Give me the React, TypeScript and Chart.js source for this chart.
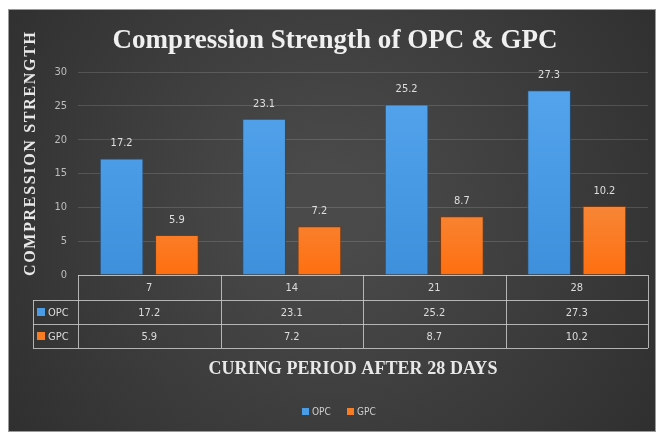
import { useEffect, useRef } from "react";
import { Chart, registerables } from "chart.js";

Chart.register(...registerables);

const categories = ["7", "14", "21", "28"];
const opcValues = [17.2, 23.1, 25.2, 27.3];
const gpcValues = [5.9, 7.2, 8.7, 10.2];
const seriesNames = ["OPC", "GPC"];
const yMin = 0;
const yMax = 30;
const yStep = 5;
const chartTitle = "Compression Strength of OPC & GPC";
const yTitle = "COMPRESSION STRENGTH";
const xTitle = "CURING PERIOD AFTER 28 DAYS";

const BLUE = "#4a9ce6";
const ORANGE = "#f77c22";
const SERIF = "'Liberation Serif', 'DejaVu Serif', serif";
const SANS = "'Liberation Sans Narrow', 'DejaVu Sans Condensed', 'Liberation Sans', sans-serif";

function fitText(ctx: CanvasRenderingContext2D, text: string, x: number, y: number, width: number) {
  (ctx as any).letterSpacing = "0px";
  const w = ctx.measureText(text).width;
  const sp = (width - w) / Math.max(1, text.length - 1);
  (ctx as any).letterSpacing = sp.toFixed(2) + "px";
  ctx.textAlign = "left";
  ctx.fillText(text, x - width / 2, y);
  (ctx as any).letterSpacing = "0px";
}

const decorPlugin = {
  id: "decor",
  beforeDraw(chart: any) {
    const { ctx, width, height } = chart;
    ctx.save();
    ctx.fillStyle = "#ffffff";
    ctx.fillRect(0, 0, width, height);
    const x0 = 8, y0 = 9, x1 = 656, y1 = 432;
    const g = ctx.createRadialGradient(330, 210, 40, 330, 210, 420);
    g.addColorStop(0, "#4a4a4a");
    g.addColorStop(1, "#2d2d2d");
    ctx.fillStyle = g;
    ctx.fillRect(x0, y0, x1 - x0, y1 - y0);
    ctx.strokeStyle = "#9a9a9a";
    ctx.lineWidth = 1;
    ctx.strokeRect(x0 + 0.5, y0 + 0.5, x1 - x0 - 1, y1 - y0 - 1);
    ctx.restore();
  },
  afterDatasetsDraw(chart: any) {
    const { ctx } = chart;
    ctx.save();
    ctx.font = `11px ${SANS}`;
    ctx.fillStyle = "#dedede";
    ctx.textAlign = "center";
    ctx.textBaseline = "middle";
    chart.data.datasets.forEach((ds: any, di: number) => {
      const meta = chart.getDatasetMeta(di);
      meta.data.forEach((bar: any, i: number) => {
        ctx.fillText(String(ds.data[i]), bar.x, bar.y - 15);
      });
    });
    ctx.restore();
  },
  afterDraw(chart: any) {
    const { ctx, chartArea } = chart;
    const { left, right, bottom } = chartArea;
    const n = categories.length;
    const colW = (right - left) / n;
    const rowTop = bottom;
    const rows = [bottom, bottom + 25, bottom + 49, bottom + 73];
    const labelLeft = 33;
    ctx.save();
    // table lines
    ctx.strokeStyle = "rgba(210,210,210,0.8)";
    ctx.lineWidth = 1;
    ctx.beginPath();
    rows.forEach((y, k) => {
      const yy = Math.round(y) + 0.5;
      ctx.moveTo(k === 0 ? left : labelLeft, yy);
      ctx.lineTo(right, yy);
    });
    for (let i = 0; i <= n; i++) {
      const x = Math.round(left + i * colW) + 0.5;
      ctx.moveTo(x, rowTop);
      ctx.lineTo(x, rows[3]);
    }
    ctx.moveTo(labelLeft + 0.5, rows[1]);
    ctx.lineTo(labelLeft + 0.5, rows[3]);
    ctx.stroke();

    // table text
    ctx.font = `11px ${SANS}`;
    ctx.fillStyle = "#dcdcdc";
    ctx.textAlign = "center";
    ctx.textBaseline = "middle";
    const rowVals = [categories, opcValues.map(String), gpcValues.map(String)];
    rowVals.forEach((vals, r) => {
      const cy = (rows[r] + rows[r + 1]) / 2 + 1;
      vals.forEach((v, i) => {
        ctx.fillText(v, left + (i + 0.5) * colW, cy);
      });
    });
    // row legend keys
    const colors = [BLUE, ORANGE];
    seriesNames.forEach((name, r) => {
      const cy = (rows[r + 1] + rows[r + 2]) / 2;
      ctx.fillStyle = colors[r];
      ctx.fillRect(37, cy - 4, 8, 8);
      ctx.fillStyle = "#dcdcdc";
      ctx.textAlign = "left";
      ctx.fillText(name, 48, cy + 1);
    });

    // chart title
    ctx.fillStyle = "#f0f0f0";
    ctx.textBaseline = "middle";
    ctx.font = `bold 27px ${SERIF}`;
    fitText(ctx, chartTitle, 335, 41, 445);

    // x title
    ctx.font = `bold 18px ${SERIF}`;
    ctx.fillStyle = "#e8e8e8";
    fitText(ctx, xTitle, 353, 369, 289);

    // y title
    ctx.save();
    ctx.translate(31, 154);
    ctx.rotate(-Math.PI / 2);
    ctx.font = `bold 16px ${SERIF}`;
    fitText(ctx, yTitle, 0, 0, 244);
    ctx.restore();

    // bottom legend
    ctx.font = `10px ${SANS}`;
    ctx.textBaseline = "middle";
    ctx.textAlign = "left";
    const lx = [302, 347];
    seriesNames.forEach((name, r) => {
      ctx.fillStyle = colors[r];
      ctx.fillRect(lx[r], 408, 7, 7);
      ctx.fillStyle = "#cfcfcf";
      ctx.fillText(name, lx[r] + 10, 412);
    });
    ctx.restore();
  },
};

export default function App() {
  const ref = useRef<HTMLCanvasElement | null>(null);
  useEffect(() => {
    document.body.style.margin = "0";
    const canvas = ref.current!;
    const ctx = canvas.getContext("2d")!;
    const blueGrad = ctx.createLinearGradient(0, 70, 0, 275);
    blueGrad.addColorStop(0, "#55a6ee");
    blueGrad.addColorStop(1, "#3f90dc");
    const orangeGrad = ctx.createLinearGradient(0, 200, 0, 275);
    orangeGrad.addColorStop(0, "#f6883a");
    orangeGrad.addColorStop(1, "#ff6f10");
    const chart = new Chart(canvas, {
      type: "bar",
      data: {
        labels: categories,
        datasets: [
          {
            label: seriesNames[0],
            data: opcValues,
            backgroundColor: blueGrad,
            borderColor: "#2a4d70",
            borderWidth: 1,
            barPercentage: 0.79,
            categoryPercentage: 0.776,
          },
          {
            label: seriesNames[1],
            data: gpcValues,
            backgroundColor: orangeGrad,
            borderColor: "#7a3a10",
            borderWidth: 1,
            barPercentage: 0.79,
            categoryPercentage: 0.776,
          },
        ],
      },
      options: {
        responsive: false,
        animation: false,
        layout: { padding: { left: 0, top: 72, right: 14, bottom: 159 } },
        plugins: {
          legend: { display: false },
          title: { display: false },
          tooltip: { enabled: false },
        },
        scales: {
          x: { display: false },
          y: {
            min: yMin,
            max: yMax,
            ticks: {
              stepSize: yStep,
              color: "#bdbdbd",
              font: { size: 11, family: SANS },
              padding: 11,
            },
            grid: { color: "rgba(255,255,255,0.14)", drawTicks: false },
            border: { display: false },
            afterFit: (s: any) => {
              s.width = 78;
            },
          },
        },
      },
      plugins: [decorPlugin],
    });
    return () => chart.destroy();
  }, []);
  return <canvas ref={ref} width={662} height={434} style={{ display: "block" }} />;
}
